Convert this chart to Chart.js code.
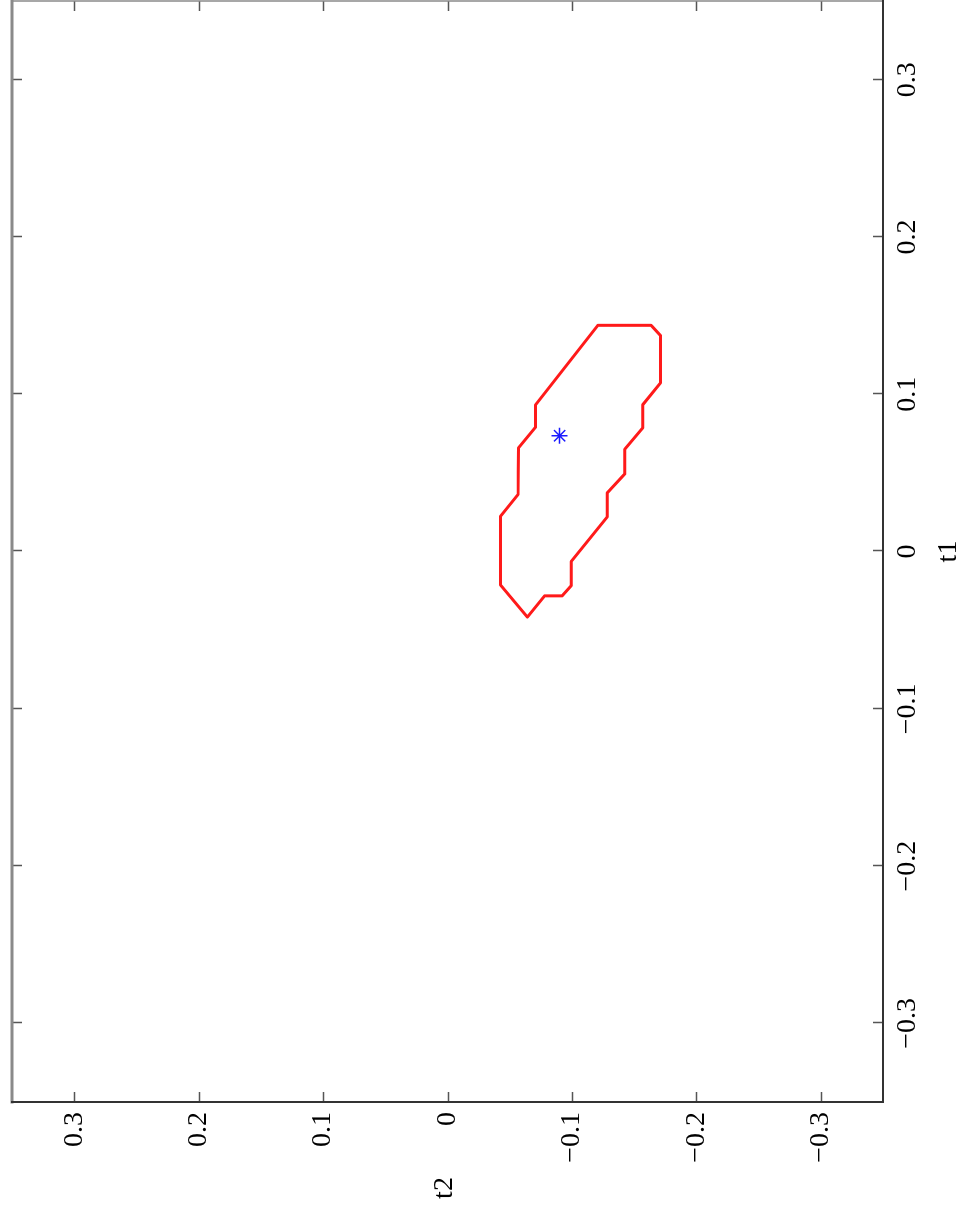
<!DOCTYPE html>
<html>
<head>
<meta charset="utf-8">
<script src="https://cdn.jsdelivr.net/npm/chart.js@4/dist/chart.umd.min.js"></script>
<style>
  html, body { margin: 0; padding: 0; background: #ffffff; overflow: hidden; }
  body { width: 969px; height: 1212px; position: relative; }
  /* the figure is drawn landscape and turned a quarter turn counter-clockwise */
  #wrap {
    position: absolute; left: 0; top: 0;
    width: 1212px; height: 969px;
    transform-origin: 0 0;
    transform: translate(0px, 1212px) rotate(-90deg);
  }
  canvas { display: block; }
</style>
</head>
<body>
<div id="wrap"><canvas id="c" width="1212" height="969"></canvas></div>
<script>
// confidence region boundary (closed polygon), t1 / t2 coordinates
const regionT1 = [0.1438, 0.1438, 0.1374, 0.1071, 0.0933, 0.0785, 0.0651, 0.0494, 0.0372, 0.0219,
                  -0.0064, -0.0218, -0.0282, -0.0282, -0.0417, -0.0212, 0.0223, 0.0361, 0.0658, 0.0791,
                  0.0933, 0.1438];
const regionT2 = [-0.1208, -0.1636, -0.1711, -0.1711, -0.1569, -0.1569, -0.1425, -0.1425, -0.1283, -0.1283,
                  -0.0994, -0.0994, -0.0922, -0.0780, -0.0642, -0.0425, -0.0425, -0.0566, -0.0570, -0.0708,
                  -0.0708, -0.1208];
// point estimate
const estimateT1 = [0.0736];
const estimateT2 = [-0.0901];
// axis ticks
const t1Ticks = [-0.3, -0.2, -0.1, 0, 0.1, 0.2, 0.3];
const t2Ticks = [-0.3, -0.2, -0.1, 0, 0.1, 0.2, 0.3];
const axisMin = -0.35, axisMax = 0.35;
const xTitle = 't1';
const yTitle = 't2';

const fmt = v => (Math.abs(v) < 1e-9 ? '0' : (v < 0 ? '\u2212' : '') + Math.abs(v).toFixed(1));
const FONT = 'Liberation Serif';
const FSIZE = 28;

const boxPlugin = {
  id: 'box',
  afterDraw(chart) {
    const { ctx, chartArea: a, scales: { x, y } } = chart;
    ctx.save();
    const TL = 10;
    ctx.lineWidth = 1.5;
    ctx.strokeStyle = '#555';
    ctx.beginPath();
    t1Ticks.forEach(v => {
      const px = Math.round(x.getPixelForValue(v)) + 0.5;
      ctx.moveTo(px, a.bottom); ctx.lineTo(px, a.bottom - TL);
      ctx.moveTo(px, a.top); ctx.lineTo(px, a.top + TL);
    });
    t2Ticks.forEach(v => {
      const py = Math.round(y.getPixelForValue(v)) + 0.5;
      ctx.moveTo(a.left, py); ctx.lineTo(a.left + TL, py);
      ctx.moveTo(a.right, py); ctx.lineTo(a.right - TL, py);
    });
    ctx.stroke();
    // frame
    ctx.lineCap = 'square';
    ctx.strokeStyle = '#8a8a8a';
    ctx.lineWidth = 3;
    ctx.beginPath(); ctx.moveTo(a.left, a.top); ctx.lineTo(a.right, a.top); ctx.stroke();
    ctx.lineWidth = 1.5;
    ctx.beginPath(); ctx.moveTo(a.right, a.top); ctx.lineTo(a.right, a.bottom); ctx.stroke();
    ctx.strokeStyle = '#333';
    ctx.lineWidth = 2;
    ctx.beginPath(); ctx.moveTo(a.left, a.top); ctx.lineTo(a.left, a.bottom); ctx.lineTo(a.right, a.bottom); ctx.stroke();
    // horizontal t2 label left of the vertical axis
    ctx.fillStyle = '#000';
    ctx.font = FSIZE + 'px "' + FONT + '"';
    ctx.textAlign = 'center';
    ctx.textBaseline = 'middle';
    ctx.fillText(yTitle, 24, (a.top + a.bottom) / 2 - 3);
    ctx.restore();
  }
};

new Chart(document.getElementById('c'), {
  type: 'scatter',
  data: {
    datasets: [
      {
        label: 'region',
        data: regionT1.map((v, i) => ({ x: v, y: regionT2[i] })),
        showLine: true,
        borderColor: '#ff1a1a',
        borderWidth: 3,
        borderJoinStyle: 'round',
        pointRadius: 0,
        fill: false
      },
      {
        label: 'estimate',
        data: estimateT1.map((v, i) => ({ x: v, y: estimateT2[i] })),
        pointStyle: 'star',
        pointRadius: 8,
        borderColor: '#1a1aff',
        backgroundColor: '#1a1aff',
        pointBorderWidth: 1.5
      }
    ]
  },
  options: {
    responsive: false,
    animation: false,
    devicePixelRatio: 1,
    layout: { autoPadding: false, padding: { top: 12, right: 1, left: 0, bottom: 0 } },
    plugins: { legend: { display: false }, tooltip: { enabled: false } },
    scales: {
      x: {
        type: 'linear', position: 'bottom', min: axisMin, max: axisMax,
        afterBuildTicks: s => { s.ticks = t1Ticks.map(v => ({ value: v })); },
        afterFit: s => { s.height = 86; s.paddingLeft = 0; s.paddingRight = 0; },
        grid: { display: false, drawTicks: false },
        border: { display: false },
        ticks: { callback: fmt, padding: 8, color: '#000', maxRotation: 0, autoSkip: false,
                 font: { family: FONT, size: FSIZE } },
        title: { display: true, text: xTitle, color: '#000', padding: { top: 0, bottom: 4 },
                 font: { family: FONT, size: FSIZE } }
      },
      y: {
        type: 'linear', position: 'left', min: axisMin, max: axisMax,
        afterBuildTicks: s => { s.ticks = t2Ticks.map(v => ({ value: v })); },
        afterFit: s => { s.width = 110; s.paddingTop = 0; s.paddingBottom = 0; },
        grid: { display: false, drawTicks: false },
        border: { display: false },
        ticks: { callback: fmt, padding: 10, color: '#000', autoSkip: false,
                 font: { family: FONT, size: FSIZE } },
        title: { display: false }
      }
    }
  },
  plugins: [boxPlugin]
});
</script>
</body>
</html>
